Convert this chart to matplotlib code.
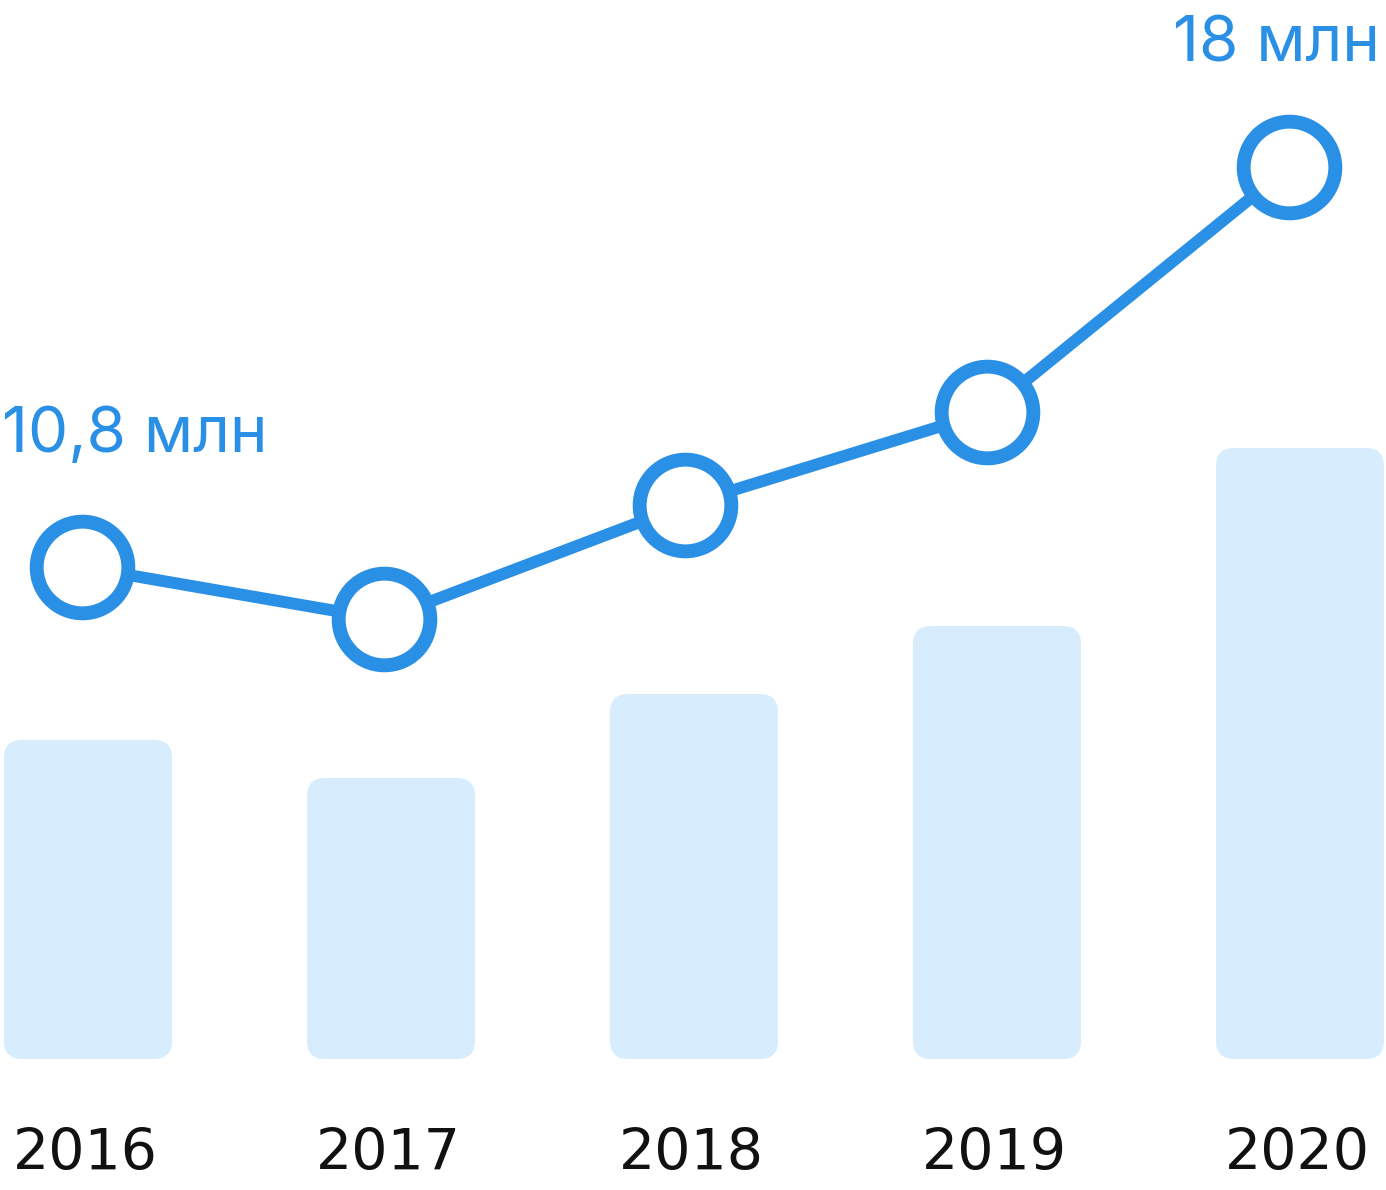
import matplotlib
matplotlib.use("Agg")
import matplotlib.pyplot as plt
from matplotlib.patches import FancyBboxPatch

# ---- data ----
years = ["2016", "2017", "2018", "2019", "2020"]
audience_mln = [10.8, 9.86, 11.92, 13.59, 18.0]          # line series (млн)
bar_values = [3.19, 2.81, 3.65, 4.33, 6.11]              # background bars (relative units)
labels = {0: "10,8 млн", 4: "18 млн"}

LINE = "#2A90E6"
BAR = "#D7ECFD"

W, H = 1386, 1190
fig = plt.figure(figsize=(W / 100, H / 100), dpi=100)
fig.patch.set_facecolor("white")

# bar axes (pixel-calibrated limits)
axb = fig.add_axes([0, 0, 1, 1])
bx0, bstep = 88, 303.0
axb.set_xlim(-bx0 / bstep, (W - bx0) / bstep)
ypx = 100.0  # px per bar unit
bottom_px = H - 1059
axb.set_ylim(-bottom_px / ypx, (H - bottom_px) / ypx)
axb.axis("off")

bw = 168 / bstep
rs = 18 / bstep
aspect = (1 / ypx) / (1 / bstep)
for i, v in enumerate(bar_values):
    p = FancyBboxPatch((i - bw / 2, 0), bw, v,
                       boxstyle=f"round,pad=0,rounding_size={rs}",
                       mutation_aspect=aspect, facecolor=BAR, edgecolor="none")
    axb.add_patch(p)
    axb.text(i - 0.01, -1.11, years[i], ha="center", va="baseline",
             fontsize=41, color="#111111", family=["DejaVu Sans"])

# line axes
axl = fig.add_axes([0, 0, 1, 1])
lx0, lstep = 82, 301.75
axl.set_xlim(-lx0 / lstep, (W - lx0) / lstep)
ppu = 400 / 7.2
y_bottom = 10.8 - (H - 567) / ppu
y_top = 18 + 167 / ppu
axl.set_ylim(y_bottom, y_top)
axl.axis("off")
axl.patch.set_alpha(0)

xs = list(range(len(years)))
axl.plot(xs, audience_mln, color=LINE, lw=8.6, solid_capstyle="butt", zorder=2)
axl.plot(xs, audience_mln, ls="none", marker="o", ms=66, mew=10,
         mec=LINE, mfc="white", zorder=3)

axl.annotate(labels[0], (0, audience_mln[0]), xytext=(-80, 115),
             textcoords="offset pixels", ha="left", va="baseline",
             fontsize=46, color=LINE, family=["Inter", "DejaVu Sans"])
axl.annotate(labels[4], (4, audience_mln[4]), xytext=(91, 106),
             textcoords="offset pixels", ha="right", va="baseline",
             fontsize=46, color=LINE, family=["Inter", "DejaVu Sans"])

fig.savefig("out.png", dpi=100, facecolor="white")
